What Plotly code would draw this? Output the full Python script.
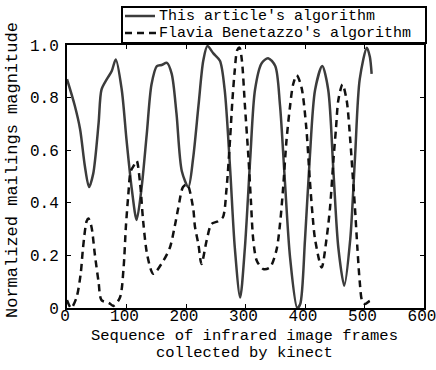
import plotly.graph_objects as go

# This article's algorithm (solid)
solid_x = [0, 13, 22, 30, 37, 44, 53, 58, 67, 75, 82, 92, 100, 109, 117, 125, 134, 142, 151, 159,
           168, 176, 184, 193, 204, 212, 221, 229, 236, 246, 257, 265, 274, 282, 291, 299, 308, 316,
           327, 338, 350, 358, 366, 375, 387, 392, 400, 408, 417, 429, 439, 448, 456, 466, 476, 484,
           492, 504, 509, 512]
solid_y = [0.87, 0.77, 0.68, 0.54, 0.46, 0.51, 0.70, 0.83, 0.87, 0.90, 0.945, 0.83, 0.64, 0.45, 0.335,
           0.45, 0.66, 0.85, 0.92, 0.924, 0.932, 0.89, 0.74, 0.52, 0.46, 0.57, 0.77, 0.94, 0.996, 0.968,
           0.94, 0.83, 0.535, 0.23, 0.04, 0.23, 0.57, 0.83, 0.93, 0.95, 0.92, 0.77, 0.49, 0.19, 0.0,
           0.015, 0.26, 0.57, 0.83, 0.92, 0.83, 0.51, 0.23, 0.085, 0.26, 0.57, 0.87, 0.99, 0.955, 0.89]

# Flavia Benetazzo's algorithm (dashed)
dashed_x = [0, 7, 16, 23, 27, 33, 36, 41, 47, 53, 58, 70, 78, 89, 95, 99, 103, 107, 112, 117, 123,
            128, 135, 145, 162, 173, 181, 187, 195, 202, 212, 215, 221, 226, 235, 243, 254, 262, 268,
            274, 278, 282, 286, 290, 294, 299, 305, 309, 313, 319, 330, 341, 352, 358, 363, 369, 375,
            380, 386, 394, 402, 408, 413, 417, 428, 436, 442, 448, 452, 456, 463, 470, 476, 480, 484,
            488, 492, 496, 501, 509, 515]
dashed_y = [0.03, 0.0, 0.04, 0.13, 0.23, 0.33, 0.34, 0.31, 0.2, 0.1, 0.03, 0.02, 0.008, 0.04, 0.15,
            0.31, 0.43, 0.52, 0.54, 0.56, 0.47, 0.33, 0.2, 0.13, 0.18, 0.23, 0.31, 0.38, 0.46, 0.47,
            0.38, 0.31, 0.24, 0.167, 0.26, 0.32, 0.33, 0.345, 0.45, 0.64, 0.79, 0.905, 0.98, 0.99, 0.94,
            0.77, 0.57, 0.41, 0.26, 0.18, 0.148, 0.154, 0.22, 0.32, 0.45, 0.64, 0.77, 0.85, 0.885, 0.84,
            0.69, 0.49, 0.345, 0.26, 0.154, 0.26, 0.38, 0.57, 0.68, 0.79, 0.85, 0.79, 0.64, 0.51, 0.38,
            0.23, 0.1, 0.027, 0.015, 0.027, 0.03]

series_names = ["This article's algorithm", "Flavia Benetazzo's algorithm"]
x_title_lines = ["Sequence of infrared image frames", "collected by kinect"]
y_title = "Normalized mailings magnitude"
x_ticks = [0, 100, 200, 300, 400, 500, 600]
y_ticks = [0, 0.2, 0.4, 0.6, 0.8, 1.0]
y_tick_labels = ["0", "0.2", "0.4", "0.6", "0.8", "1.0"]

FONT = "Liberation Mono"
SOLID_COLOR = "#3c3c3c"
DASH_COLOR = "#111111"
DASH = "7px,5px"

W, H = 436, 370
ML, MR, MT, MB = 67, 12, 45, 62
PW, PH = W - ML - MR, H - MT - MB


def px2paper_x(px):
    return (px - ML) / PW


def py2paper_y(py):
    return (H - MB - py) / PH


fig = go.Figure()
fig.add_trace(go.Scatter(x=solid_x, y=solid_y, mode="lines", name=series_names[0],
                         line=dict(color=SOLID_COLOR, width=2.5, shape="spline", smoothing=0.8)))
fig.add_trace(go.Scatter(x=dashed_x, y=dashed_y, mode="lines", name=series_names[1],
                         line=dict(color=DASH_COLOR, width=2.5, dash=DASH, shape="spline", smoothing=0.8)))

# Legend box drawn by hand to match the compact reference legend
shapes = [
    dict(type="rect", xref="paper", yref="paper",
         x0=px2paper_x(122), x1=px2paper_x(426), y0=py2paper_y(43), y1=py2paper_y(7),
         line=dict(color="black", width=2), fillcolor="white", layer="above"),
    dict(type="line", xref="paper", yref="paper",
         x0=px2paper_x(125), x1=px2paper_x(155), y0=py2paper_y(16), y1=py2paper_y(16),
         line=dict(color=SOLID_COLOR, width=2.5), layer="above"),
    dict(type="line", xref="paper", yref="paper",
         x0=px2paper_x(125), x1=px2paper_x(157), y0=py2paper_y(33), y1=py2paper_y(33),
         line=dict(color=DASH_COLOR, width=2.5, dash=DASH), layer="above"),
]
annotations = [
    dict(xref="paper", yref="paper", x=px2paper_x(157), y=py2paper_y(16), text=series_names[0],
         showarrow=False, xanchor="left", yanchor="middle",
         font=dict(family=FONT, size=15, color="black")),
    dict(xref="paper", yref="paper", x=px2paper_x(157), y=py2paper_y(33), text=series_names[1],
         showarrow=False, xanchor="left", yanchor="middle",
         font=dict(family=FONT, size=15, color="black")),
    # x-axis title (two lines)
    dict(xref="paper", yref="paper", x=px2paper_x(244), y=py2paper_y(336), text=x_title_lines[0],
         showarrow=False, xanchor="center", yanchor="middle",
         font=dict(family=FONT, size=15.5, color="black")),
    dict(xref="paper", yref="paper", x=px2paper_x(244), y=py2paper_y(353), text=x_title_lines[1],
         showarrow=False, xanchor="center", yanchor="middle",
         font=dict(family=FONT, size=15.5, color="black")),
    # y-axis title
    dict(xref="paper", yref="paper", x=px2paper_x(12), y=py2paper_y(170), text=y_title,
         showarrow=False, xanchor="center", yanchor="middle", textangle=-90,
         font=dict(family=FONT, size=17, color="black")),
]

fig.update_layout(
    width=W, height=H,
    margin=dict(l=ML, r=MR, t=MT, b=MB),
    paper_bgcolor="white", plot_bgcolor="white",
    font=dict(family=FONT, size=16, color="black"),
    showlegend=False,
    shapes=shapes,
    annotations=annotations,
)
fig.update_xaxes(range=[0, 600], tickvals=x_ticks, ticks="inside", ticklen=4,
                 tickcolor="black", showline=True, linecolor="black", linewidth=2,
                 mirror="ticks", showgrid=False, zeroline=False, ticklabeloverflow="allow",
                 automargin=False, ticklabelstandoff=-8, ticklabelshift=-2,
                 tickfont=dict(family=FONT, size=16))
fig.update_yaxes(range=[0, 1.0], tickvals=y_ticks, ticktext=y_tick_labels, ticks="inside",
                 ticklen=4, tickcolor="black", showline=True, linecolor="black", linewidth=2,
                 mirror="ticks", showgrid=False, zeroline=False, automargin=False,
                 ticklabelstandoff=3,
                 tickfont=dict(family=FONT, size=16))

fig.write_html("out.html")
